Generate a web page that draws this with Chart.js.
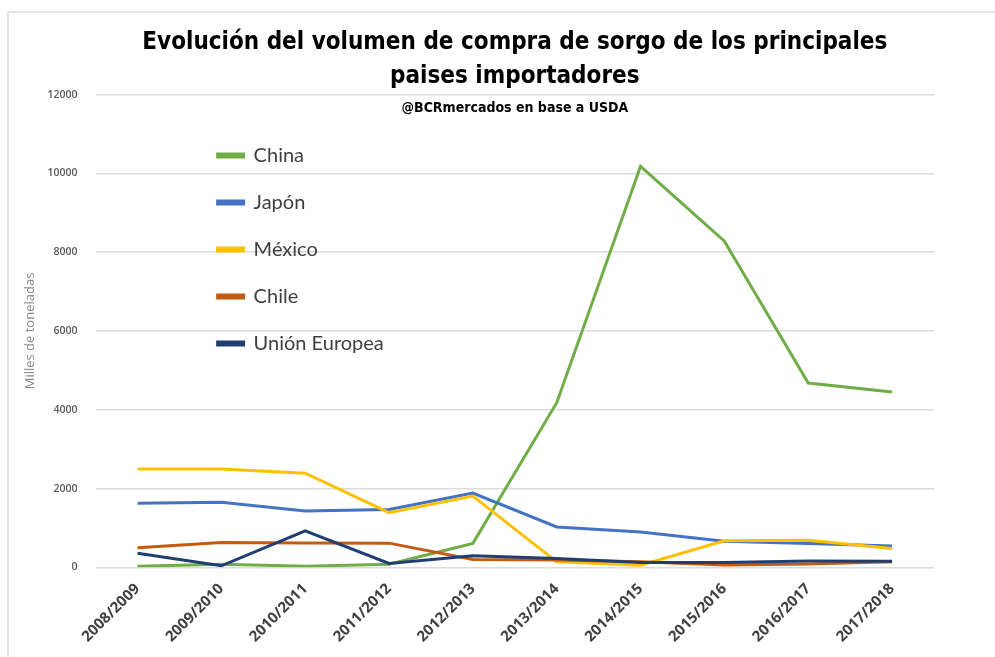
<!DOCTYPE html>
<html>
<head>
<meta charset="utf-8">
<script src="https://cdn.jsdelivr.net/npm/chart.js@4.4.1/dist/chart.umd.min.js"></script>
<style>
    html, body { margin: 0; padding: 0; background: #fff; }
    .frame {
        position: absolute; left: 7px; top: 11px;
        width: 986px; height: 644px;
        border-top: 2px solid #e4e4e4;
        border-left: 2px solid #e4e4e4;
    }
    .frame canvas { display: block; }
</style>
</head>
<body>
<div class="frame"><canvas id="sorgoChart"></canvas></div>
<script>
// Campañas
const campanas = ['2008/2009', '2009/2010', '2010/2011', '2011/2012', '2012/2013',
                  '2013/2014', '2014/2015', '2015/2016', '2016/2017', '2017/2018'];

// Miles de toneladas
const china   = [30, 80, 30, 80, 610, 4180, 10180, 8280, 4680, 4450];
const japon   = [1630, 1650, 1430, 1470, 1885, 1025, 900, 665, 605, 545];
const mexico  = [2500, 2495, 2390, 1390, 1810, 140, 55, 675, 690, 480];
const chile   = [495, 630, 620, 615, 200, 185, 140, 60, 85, 140];
const unionEu = [360, 40, 925, 100, 295, 225, 125, 125, 160, 155];

const yTicks = [0, 2000, 4000, 6000, 8000, 10000, 12000];

// coloca la leyenda dentro del área del gráfico
const legendOffset = {
    id: 'legendOffset',
    afterLayout(chart, args, opts) {
        const lg = chart.legend, area = chart.chartArea;
        if (!lg || !area) return;
        lg.left = area.left + (opts.x || 0);
        lg.top = area.top + (opts.y || 0);
        lg.right = area.right;
        lg.bottom = area.bottom;
    }
};

function serie(label, data, color, order) {
    return {
        label: label,
        data: data,
        borderColor: color,
        backgroundColor: color,
        borderWidth: 3,
        pointRadius: 0,
        tension: 0,
        order: order
    };
}

const tituloFont = '"Liberation Sans Narrow", "DejaVu Sans Condensed", "Roboto Condensed", "Liberation Sans", sans-serif';

new Chart(document.getElementById('sorgoChart'), {
    type: 'line',
    data: {
        labels: campanas,
        datasets: [
            serie('China', china, '#70AD47', 4),
            serie('Japón', japon, '#4472C4', 3),
            serie('México', mexico, '#FFC000', 2),
            serie('Chile', chile, '#C55A11', 1),
            serie('Unión Europea', unionEu, '#203F70', 0)
        ]
    },
    plugins: [legendOffset],
    options: {
        responsive: true,
        maintainAspectRatio: false,
        animation: false,
        layout: { padding: { left: 13, right: 61, top: 0, bottom: -10 } },
        plugins: {
            title: {
                display: true,
                fullSize: false,
                text: ['Evolución del volumen de compra de sorgo de los principales', 'paises importadores'],
                color: '#000',
                font: { family: tituloFont, size: 24, weight: 'bold', lineHeight: 1.45 },
                padding: { top: 12, bottom: 0 }
            },
            subtitle: {
                display: true,
                fullSize: false,
                text: '@BCRmercados en base a USDA',
                color: '#000',
                font: { family: tituloFont, size: 14, weight: 'bold', lineHeight: 1.2 },
                padding: { top: 5, bottom: -26 }
            },
            legend: {
                position: 'chartArea',
                align: 'start',
                labels: {
                    boxWidth: 26,
                    boxHeight: 3,
                    padding: 27,
                    color: '#404040',
                    font: { family: 'Lato, "Open Sans", sans-serif', size: 20 },
                    sort: (a, b) => a.datasetIndex - b.datasetIndex
                }
            },
            legendOffset: { x: 95, y: 24 },
            tooltip: { enabled: false }
        },
        scales: {
            x: {
                offset: true,
                grid: { display: false, drawTicks: false, tickLength: 0 },
                border: { display: false },
                afterFit: s => { s.paddingLeft = 0; s.paddingRight = 0; },
                ticks: {
                    minRotation: 45,
                    maxRotation: 45,
                    padding: 17,
                    color: '#404040',
                    font: { family: '"Open Sans", sans-serif', size: 15, weight: 'bold' }
                }
            },
            y: {
                min: 0,
                max: 12000,
                afterBuildTicks: axis => { axis.ticks = yTicks.map(v => ({ value: v })); },
                grid: { color: '#dcdcdc', lineWidth: 1.5, drawTicks: false, tickLength: 0 },
                border: { display: false },
                ticks: {
                    padding: 18,
                    color: '#595959',
                    font: { family: '"Open Sans", sans-serif', size: 10.5, weight: '600' },
                    callback: v => String(v)
                },
                title: {
                    display: true,
                    text: 'Milles de toneladas',
                    color: '#8a8a8a',
                    font: { family: '"Open Sans", sans-serif', size: 13 },
                    padding: { top: 0, bottom: -8 }
                }
            }
        }
    }
});
</script>
</body>
</html>
